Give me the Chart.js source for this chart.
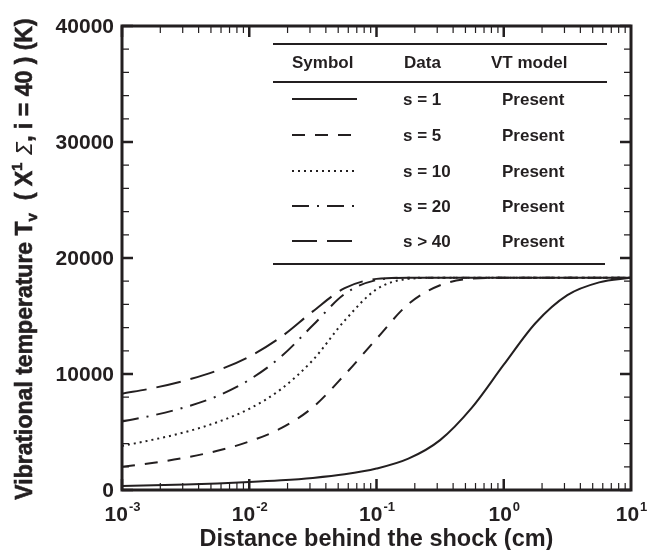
<!DOCTYPE html>
<html>
<head>
<meta charset="utf-8">
<script src="https://cdn.jsdelivr.net/npm/chart.js@4"></script>
<style>
html,body{margin:0;padding:0;background:#fff;}
#wrap{width:658px;height:550px;}
</style>
</head>
<body>
<div id="wrap"><canvas id="c" width="658" height="550"></canvas></div>
<script>
// distance behind the shock (cm)
const distance = [0.001, 0.00178, 0.00316, 0.00562, 0.01, 0.0178, 0.0316, 0.0562, 0.1, 0.178, 0.316, 0.562, 1, 1.78, 3.16, 5.62, 10];
const tv_s1  = [350, 410, 480, 570, 680, 830, 1040, 1350, 1850, 2700, 4300, 7100, 10800, 14400, 16800, 17900, 18300];
const tv_s5  = [2000, 2350, 2800, 3380, 4180, 5330, 7130, 9930, 13030, 16030, 17650, 18220, 18300, 18300, 18300, 18300, 18300];
const tv_s10 = [3800, 4350, 5000, 5850, 7000, 8700, 11200, 14600, 17300, 18200, 18300, 18300, 18300, 18300, 18300, 18300, 18300];
const tv_s20 = [5900, 6450, 7150, 8100, 9500, 11500, 14200, 16900, 18100, 18300, 18300, 18300, 18300, 18300, 18300, 18300, 18300];
const tv_s40 = [8300, 8800, 9450, 10300, 11500, 13200, 15400, 17400, 18200, 18300, 18300, 18300, 18300, 18300, 18300, 18300, 18300];
const seriesLabels = ["s = 1", "s = 5", "s = 10", "s = 20", "s > 40"];
const modelLabels = ["Present", "Present", "Present", "Present", "Present"];
const xDecades = [-3, -2, -1, 0, 1];
const yTicks = [0, 10000, 20000, 30000, 40000];

const INK = '#231f20';
const dashes = [[], [13, 10], [2, 4], [17, 8, 2, 8], [25, 10]];
const allSeries = [tv_s1, tv_s5, tv_s10, tv_s20, tv_s40];

const datasets = allSeries.map((s, i) => ({
  label: seriesLabels[i],
  data: distance.map((d, k) => ({x: d, y: s[k]})),
  borderColor: INK,
  borderWidth: 2,
  borderDash: dashes[i],
  pointRadius: 0,
  fill: false,
  cubicInterpolationMode: 'monotone'
}));

const deco = {
  id: 'deco',
  afterDraw(chart) {
    const ctx = chart.ctx;
    const a = chart.chartArea;
    const xs = chart.scales.x, ys = chart.scales.y;
    ctx.save();
    ctx.strokeStyle = INK;
    ctx.fillStyle = INK;
    // ticks x (bottom & top), inward
    for (let e = -3; e <= 0; e++) {
      for (let m = 1; m <= 9; m++) {
        const v = m * Math.pow(10, e);
        const px = xs.getPixelForValue(v);
        const major = (m === 1);
        const len = major ? 11 : 7;
        ctx.lineWidth = major ? 2.5 : 1.2;
        ctx.beginPath();
        ctx.moveTo(px, a.bottom); ctx.lineTo(px, a.bottom - len);
        ctx.moveTo(px, a.top); ctx.lineTo(px, a.top + len);
        ctx.stroke();
      }
    }
    // ticks y (left & right)
    for (let v = 0; v <= 40000; v += 2000) {
      const py = ys.getPixelForValue(v);
      const major = (v % 10000 === 0);
      const len = major ? 11 : 7;
      ctx.lineWidth = major ? 2.5 : 1.2;
      ctx.beginPath();
      ctx.moveTo(a.left, py); ctx.lineTo(a.left + len, py);
      ctx.moveTo(a.right, py); ctx.lineTo(a.right - len, py);
      ctx.stroke();
    }
    // frame
    ctx.lineWidth = 3;
    ctx.strokeRect(a.left, a.top, a.right - a.left, a.bottom - a.top);

    // y tick labels
    ctx.font = 'bold 21px "Liberation Sans", Arial, sans-serif';
    ctx.textAlign = 'right';
    ctx.textBaseline = 'middle';
    yTicks.forEach(v => {
      ctx.fillText(String(v), a.left - 8, ys.getPixelForValue(v) + 1);
    });
    // x tick labels with superscript exponents
    ctx.textBaseline = 'alphabetic';
    ctx.textAlign = 'left';
    xDecades.forEach(e => {
      const px = xs.getPixelForValue(Math.pow(10, e));
      const base = '10', ex = String(e);
      ctx.font = 'bold 21px "Liberation Sans", Arial, sans-serif';
      const wb = ctx.measureText(base).width;
      ctx.font = 'bold 13px "Liberation Sans", Arial, sans-serif';
      const we = ctx.measureText(ex).width;
      let x0 = px - (wb + we) / 2;
      ctx.font = 'bold 21px "Liberation Sans", Arial, sans-serif';
      ctx.fillText(base, x0, 521);
      ctx.font = 'bold 13px "Liberation Sans", Arial, sans-serif';
      ctx.fillText(ex, x0 + wb + 1, 511);
    });
    // x title
    ctx.font = 'bold 23.5px "Liberation Sans", Arial, sans-serif';
    ctx.textAlign = 'center';
    ctx.fillText('Distance behind the shock (cm)', (a.left + a.right) / 2, 546);

    // y title (rotated, rich text)
    const F = 'bold 23px "Liberation Sans", Arial, sans-serif';
    const segs = [
      {t: 'Vibrational temperature T', f: F, dy: 0},
      {t: 'v', f: 'bold 15px "Liberation Sans", Arial, sans-serif', dy: 5},
      {t: '  ( X', f: F, dy: 0},
      {t: '1', f: 'bold 15px "Liberation Sans", Arial, sans-serif', dy: -10},
      {t: ' \u03A3', f: 'italic 22px "DejaVu Sans", sans-serif', dy: 0},
      {t: ', i = 40 ) (K)', f: F, dy: 0}
    ];
    let total = 0;
    segs.forEach(s => { ctx.font = s.f; s.w = ctx.measureText(s.t).width; total += s.w; });
    ctx.save();
    ctx.translate(32, 259);
    ctx.rotate(-Math.PI / 2);
    ctx.textAlign = 'left';
    ctx.textBaseline = 'alphabetic';
    ctx.lineWidth = 0.6;
    let cx = -total / 2;
    segs.forEach(s => {
      ctx.font = s.f;
      ctx.fillText(s.t, cx, s.dy);
      if (s.f.indexOf('bold') === 0) ctx.strokeText(s.t, cx, s.dy);
      cx += s.w;
    });
    ctx.restore();

    // legend table
    ctx.lineWidth = 2.2;
    ctx.beginPath();
    ctx.moveTo(273, 44); ctx.lineTo(607, 44);
    ctx.moveTo(273, 82); ctx.lineTo(607, 82);
    ctx.moveTo(273, 264); ctx.lineTo(605, 264);
    ctx.stroke();
    ctx.font = 'bold 17px "Liberation Sans", Arial, sans-serif';
    ctx.textAlign = 'left';
    ctx.textBaseline = 'middle';
    ctx.fillText('Symbol', 292, 63);
    ctx.fillText('Data', 404, 63);
    ctx.fillText('VT model', 491, 63);
    const rowY = [99, 135, 171, 206, 241];
    chart.data.datasets.forEach((ds, i) => {
      const y = rowY[i];
      ctx.save();
      ctx.lineWidth = 2;
      ctx.setLineDash(ds.borderDash);
      ctx.beginPath();
      ctx.moveTo(292, y); ctx.lineTo(357, y);
      ctx.stroke();
      ctx.restore();
      ctx.fillText(ds.label, 403, y + 1);
      ctx.fillText(modelLabels[i], 502, y + 1);
    });
    ctx.restore();
  }
};

new Chart(document.getElementById('c'), {
  type: 'line',
  data: { datasets },
  options: {
    responsive: false,
    animation: false,
    layout: { padding: { left: 122, right: 27, top: 26, bottom: 60 } },
    plugins: { legend: { display: false }, tooltip: { enabled: false } },
    scales: {
      x: { type: 'logarithmic', min: 0.001, max: 10, display: false },
      y: { type: 'linear', min: 0, max: 40000, display: false }
    }
  },
  plugins: [deco]
});
</script>
</body>
</html>
